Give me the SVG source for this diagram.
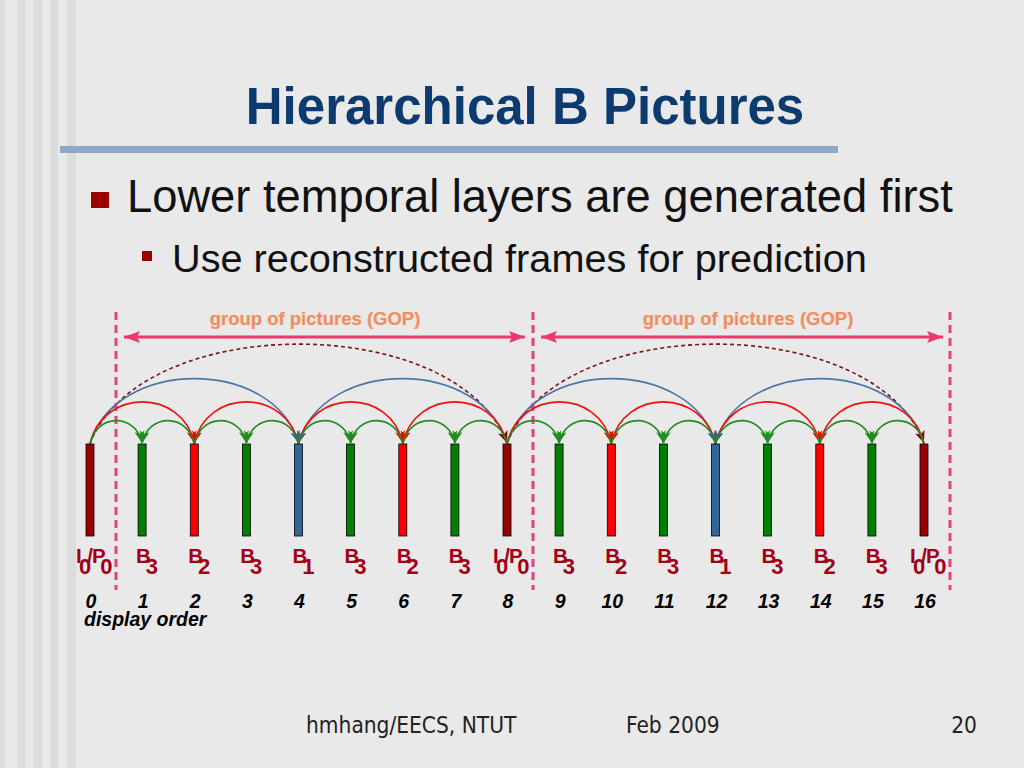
<svg xmlns="http://www.w3.org/2000/svg" width="1024" height="768" viewBox="0 0 1024 768">
<style>
.title{font-family:"Liberation Sans",Arial,sans-serif;font-weight:bold;font-size:51px;fill:#0d3b6f}
.b1{font-family:"Liberation Sans",Arial,sans-serif;font-size:45.3px;fill:#111}
.b2{font-family:"Liberation Sans",Arial,sans-serif;font-size:39.7px;fill:#111}
.foot{font-family:"DejaVu Sans",Verdana,sans-serif;font-stretch:condensed;font-size:22.5px;fill:#222}
.lbl{font-family:"Liberation Sans",Arial,sans-serif;font-weight:bold;font-size:20.5px;fill:#a00018}
.sub{font-size:22px}
.num{font-family:"Liberation Sans",Arial,sans-serif;font-weight:bold;font-style:italic;font-size:19.5px;fill:#000;text-anchor:middle}
.disp{font-family:"Liberation Sans",Arial,sans-serif;font-weight:bold;font-style:italic;font-size:19.5px;fill:#000}
.gop{font-family:"Liberation Sans",Arial,sans-serif;font-weight:bold;font-size:18.5px;fill:#ef8e60;stroke:#f7cdb8;stroke-width:0.6;paint-order:stroke;text-anchor:middle}
.bar{stroke:#000;stroke-width:0.8}
.fi{fill:#990000}.fg{fill:#007f00}.fr{fill:#ff0000}.fb{fill:#336699}
.g{fill:none;stroke:#228b22;stroke-width:1.6;marker-end:url(#ag)}
.r{fill:none;stroke:#f01010;stroke-width:1.6;marker-end:url(#ar)}
.bl{fill:none;stroke:#4a76a6;stroke-width:1.6;marker-end:url(#ab)}
.d{fill:none;stroke:#7a1020;stroke-width:1.6;stroke-dasharray:4 3;marker-end:url(#ad)}
.vd{stroke:#e0457a;stroke-width:3;stroke-dasharray:8 5}
.ga{stroke:#ea3a6c;stroke-width:3;marker-start:url(#ap);marker-end:url(#ap)}
</style>
<defs>
<marker id="ag" markerUnits="userSpaceOnUse" markerWidth="12" markerHeight="10" refX="12" refY="5" orient="auto"><path d="M0,0 L12,5 L0,10 L3,5 z" fill="#228b22"/></marker>
<marker id="ar" markerUnits="userSpaceOnUse" markerWidth="12" markerHeight="10" refX="12" refY="5" orient="auto"><path d="M0,0 L12,5 L0,10 L3,5 z" fill="#ff0000"/></marker>
<marker id="ab" markerUnits="userSpaceOnUse" markerWidth="12" markerHeight="10" refX="12" refY="5" orient="auto"><path d="M0,0 L12,5 L0,10 L3,5 z" fill="#336699"/></marker>
<marker id="ad" markerUnits="userSpaceOnUse" markerWidth="12" markerHeight="10" refX="12" refY="5" orient="auto"><path d="M0,0 L12,5 L0,10 L3,5 z" fill="#8b0000"/></marker>
<marker id="ap" markerUnits="userSpaceOnUse" markerWidth="16" markerHeight="12" refX="16" refY="6" orient="auto-start-reverse"><path d="M0,0 L16,6 L0,12 L3,6 z" fill="#ea3a6c"/></marker>
</defs>
<rect width="1024" height="768" fill="#e9e9e9"/>
<g id="stripes" fill="#dcdcdc">
<rect x="0" y="0" width="5" height="768"/>
<rect x="17" y="0" width="8" height="768"/>
<rect x="33" y="0" width="9" height="768"/>
<rect x="50" y="0" width="8" height="768"/>
<rect x="67" y="0" width="9" height="768"/>
</g>
<text class="title" x="525" y="124" text-anchor="middle">Hierarchical B Pictures</text>
<rect x="60" y="146" width="778" height="7" fill="#8ea9c5"/>
<rect x="91" y="192" width="18" height="16" fill="#990000"/>
<text class="b1" x="127" y="212">Lower temporal layers are generated first</text>
<rect x="142" y="251" width="10" height="10" fill="#990000"/>
<text class="b2" x="172" y="272">Use reconstructed frames for prediction</text>

<g id="gop-markers">
<line class="vd" x1="116" y1="312" x2="116" y2="590"/>
<line class="vd" x1="533" y1="312" x2="533" y2="590"/>
<line class="vd" x1="950" y1="312" x2="950" y2="590"/>
<line class="ga" x1="124" y1="337" x2="525" y2="337"/>
<line class="ga" x1="541" y1="337" x2="943" y2="337"/>
<text class="gop" x="315" y="325">group of pictures (GOP)</text>
<text class="gop" x="748" y="325">group of pictures (GOP)</text>
</g>

<g id="connectors">
<path class="d" d="M90 444 C140 311 457 311 507 443"/>
<path class="d" d="M507 444 C557 311 874 311 924 443"/>
<path class="bl" d="M90 444 C115 357 273.5 357 298.5 443"/>
<path class="bl" d="M507 444 C482 357 323.5 357 298.5 443"/>
<path class="bl" d="M507 444 C532 357 690.5 357 715.5 443"/>
<path class="bl" d="M924 444 C899 357 740.5 357 715.5 443"/>
<path class="r" d="M90 444 C102.5 388 181.8 388 194.3 443"/>
<path class="r" d="M298.5 444 C286 388 206.8 388 194.3 443"/>
<path class="r" d="M298.5 444 C311 388 390.3 388 402.8 443"/>
<path class="r" d="M507 444 C494.5 388 415.3 388 402.8 443"/>
<path class="r" d="M507 444 C519.5 388 598.8 388 611.3 443"/>
<path class="r" d="M715.5 444 C703 388 623.8 388 611.3 443"/>
<path class="r" d="M715.5 444 C728 388 807.3 388 819.8 443"/>
<path class="r" d="M924 444 C911.5 388 832.3 388 819.8 443"/>
<path class="g" d="M90 444 C96.3 413 135.8 413 142.1 443"/>
<path class="g" d="M194.3 444 C188 413 148.4 413 142.1 443"/>
<path class="g" d="M194.3 444 C200.6 413 240.1 413 246.4 443"/>
<path class="g" d="M298.5 444 C292.2 413 252.7 413 246.4 443"/>
<path class="g" d="M298.5 444 C304.8 413 344.3 413 350.6 443"/>
<path class="g" d="M402.8 444 C396.5 413 356.9 413 350.6 443"/>
<path class="g" d="M402.8 444 C409.1 413 448.6 413 454.9 443"/>
<path class="g" d="M507 444 C500.7 413 461.2 413 454.9 443"/>
<path class="g" d="M507 444 C513.3 413 552.8 413 559.1 443"/>
<path class="g" d="M611.3 444 C605 413 565.4 413 559.1 443"/>
<path class="g" d="M611.3 444 C617.6 413 657.1 413 663.4 443"/>
<path class="g" d="M715.5 444 C709.2 413 669.7 413 663.4 443"/>
<path class="g" d="M715.5 444 C721.8 413 761.3 413 767.6 443"/>
<path class="g" d="M819.8 444 C813.5 413 773.9 413 767.6 443"/>
<path class="g" d="M819.8 444 C826.1 413 865.6 413 871.9 443"/>
<path class="g" d="M924 444 C917.7 413 878.2 413 871.9 443"/>
</g>

<g id="frame0"><rect class="bar fi" x="86" y="444" width="8" height="92"/><text class="lbl" x="76" y="562.5">I<tspan class="sub" dx="-2.6" dy="11.5">0</tspan><tspan dx="-4" dy="-11.5">/</tspan><tspan dx="-1">P</tspan><tspan class="sub" dx="-5.5" dy="11.5">0</tspan></text><text class="num" x="91" y="608">0</text></g>
<g id="frame1"><rect class="bar fg" x="138.1" y="444" width="8" height="92"/><text class="lbl" x="136" y="562.5">B<tspan class="sub" dx="-5" dy="11.5">3</tspan></text><text class="num" x="143.1" y="608">1</text></g>
<g id="frame2"><rect class="bar fr" x="190.3" y="444" width="8" height="92"/><text class="lbl" x="188.2" y="562.5">B<tspan class="sub" dx="-5" dy="11.5">2</tspan></text><text class="num" x="195.3" y="608">2</text></g>
<g id="frame3"><rect class="bar fg" x="242.4" y="444" width="8" height="92"/><text class="lbl" x="240.3" y="562.5">B<tspan class="sub" dx="-5" dy="11.5">3</tspan></text><text class="num" x="247.4" y="608">3</text></g>
<g id="frame4"><rect class="bar fb" x="294.5" y="444" width="8" height="92"/><text class="lbl" x="292.4" y="562.5">B<tspan class="sub" dx="-5" dy="11.5">1</tspan></text><text class="num" x="299.5" y="608">4</text></g>
<g id="frame5"><rect class="bar fg" x="346.6" y="444" width="8" height="92"/><text class="lbl" x="344.5" y="562.5">B<tspan class="sub" dx="-5" dy="11.5">3</tspan></text><text class="num" x="351.6" y="608">5</text></g>
<g id="frame6"><rect class="bar fr" x="398.8" y="444" width="8" height="92"/><text class="lbl" x="396.7" y="562.5">B<tspan class="sub" dx="-5" dy="11.5">2</tspan></text><text class="num" x="403.8" y="608">6</text></g>
<g id="frame7"><rect class="bar fg" x="450.9" y="444" width="8" height="92"/><text class="lbl" x="448.8" y="562.5">B<tspan class="sub" dx="-5" dy="11.5">3</tspan></text><text class="num" x="455.9" y="608">7</text></g>
<g id="frame8"><rect class="bar fi" x="503" y="444" width="8" height="92"/><text class="lbl" x="493" y="562.5">I<tspan class="sub" dx="-2.6" dy="11.5">0</tspan><tspan dx="-4" dy="-11.5">/</tspan><tspan dx="-1">P</tspan><tspan class="sub" dx="-5.5" dy="11.5">0</tspan></text><text class="num" x="508" y="608">8</text></g>
<g id="frame9"><rect class="bar fg" x="555.1" y="444" width="8" height="92"/><text class="lbl" x="553" y="562.5">B<tspan class="sub" dx="-5" dy="11.5">3</tspan></text><text class="num" x="560.1" y="608">9</text></g>
<g id="frame10"><rect class="bar fr" x="607.3" y="444" width="8" height="92"/><text class="lbl" x="605.2" y="562.5">B<tspan class="sub" dx="-5" dy="11.5">2</tspan></text><text class="num" x="612.3" y="608">10</text></g>
<g id="frame11"><rect class="bar fg" x="659.4" y="444" width="8" height="92"/><text class="lbl" x="657.3" y="562.5">B<tspan class="sub" dx="-5" dy="11.5">3</tspan></text><text class="num" x="664.4" y="608">11</text></g>
<g id="frame12"><rect class="bar fb" x="711.5" y="444" width="8" height="92"/><text class="lbl" x="709.4" y="562.5">B<tspan class="sub" dx="-5" dy="11.5">1</tspan></text><text class="num" x="716.5" y="608">12</text></g>
<g id="frame13"><rect class="bar fg" x="763.6" y="444" width="8" height="92"/><text class="lbl" x="761.5" y="562.5">B<tspan class="sub" dx="-5" dy="11.5">3</tspan></text><text class="num" x="768.6" y="608">13</text></g>
<g id="frame14"><rect class="bar fr" x="815.8" y="444" width="8" height="92"/><text class="lbl" x="813.7" y="562.5">B<tspan class="sub" dx="-5" dy="11.5">2</tspan></text><text class="num" x="820.8" y="608">14</text></g>
<g id="frame15"><rect class="bar fg" x="867.9" y="444" width="8" height="92"/><text class="lbl" x="865.8" y="562.5">B<tspan class="sub" dx="-5" dy="11.5">3</tspan></text><text class="num" x="872.9" y="608">15</text></g>
<g id="frame16"><rect class="bar fi" x="920" y="444" width="8" height="92"/><text class="lbl" x="910" y="562.5">I<tspan class="sub" dx="-2.6" dy="11.5">0</tspan><tspan dx="-4" dy="-11.5">/</tspan><tspan dx="-1">P</tspan><tspan class="sub" dx="-5.5" dy="11.5">0</tspan></text><text class="num" x="925" y="608">16</text></g>
<text class="disp" x="84" y="626">display order</text>

<text class="foot" x="306" y="733">hmhang/EECS, NTUT</text>
<text class="foot" x="626" y="733">Feb 2009</text>
<text class="foot" x="977" y="733" text-anchor="end">20</text>
</svg>
